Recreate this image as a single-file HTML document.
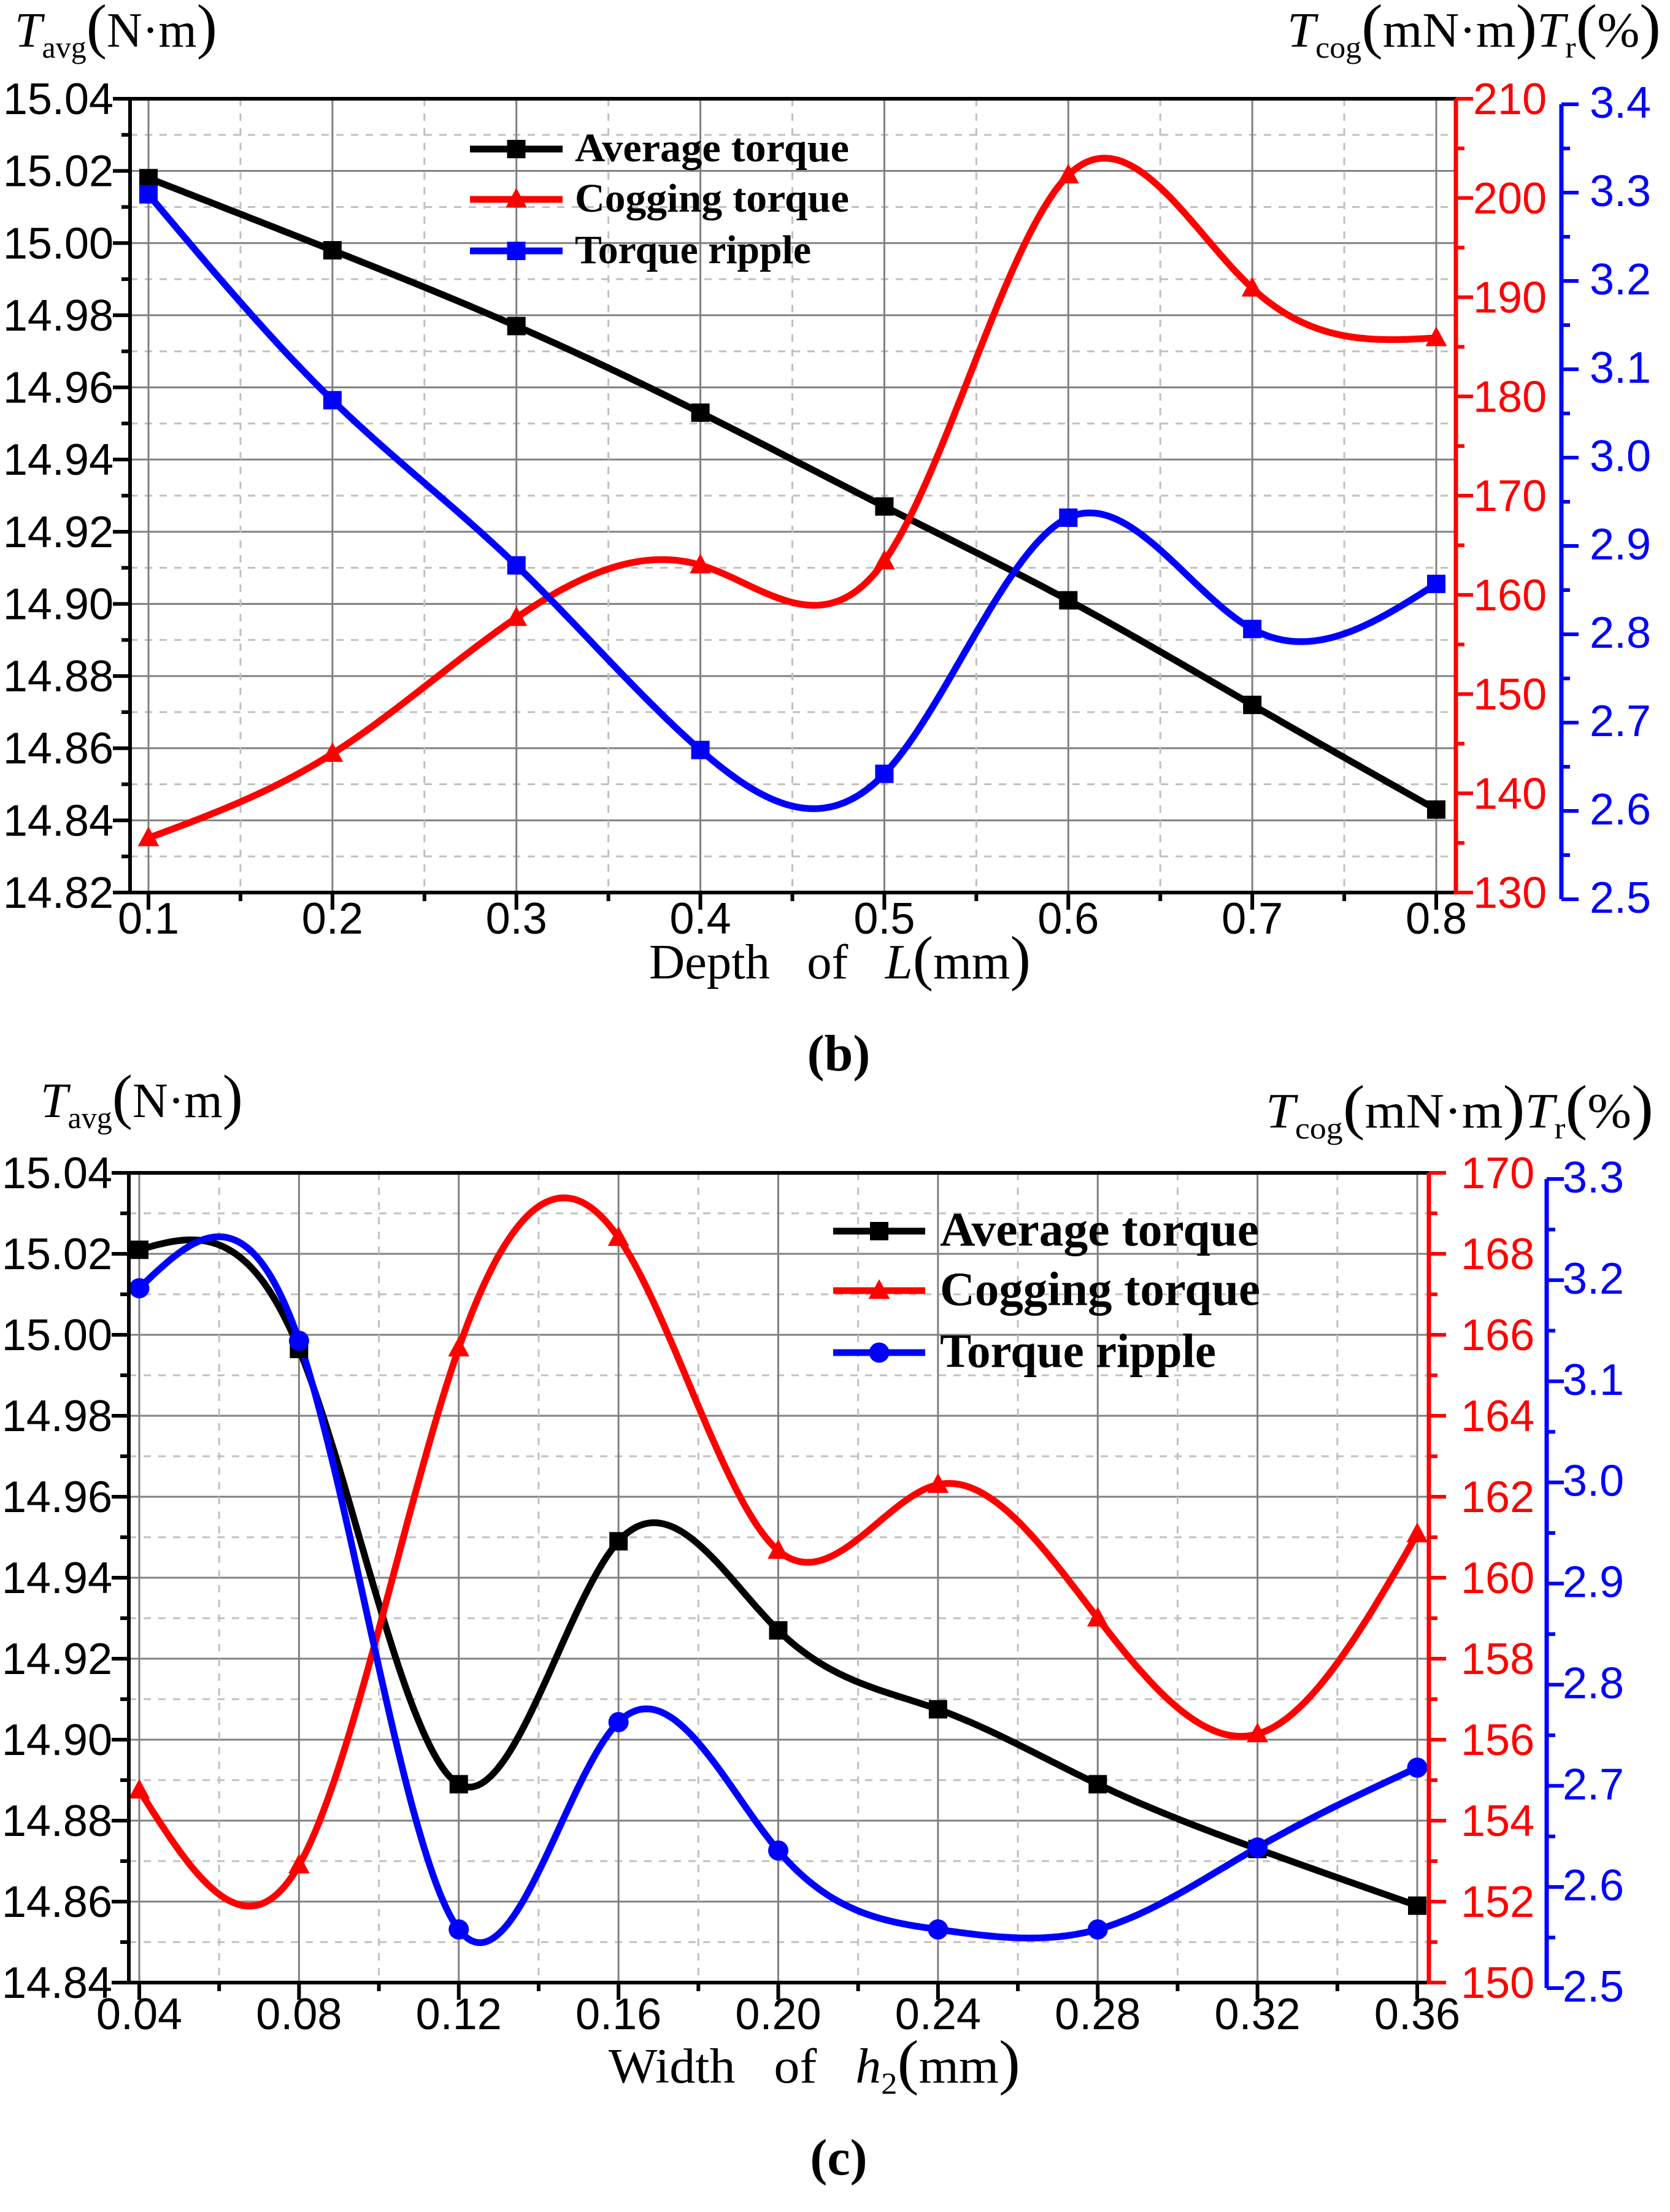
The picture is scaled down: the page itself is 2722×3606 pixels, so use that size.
<!DOCTYPE html>
<html><head><meta charset="utf-8"><style>
html,body{margin:0;padding:0;background:#fff;}
svg{display:block;}
text{white-space:pre;}
</style></head><body>
<svg id="fig" xmlns="http://www.w3.org/2000/svg" width="2722" height="3606" viewBox="0 0 2722 3606" font-family="'Liberation Sans', sans-serif">
<rect x="0" y="0" width="2722" height="3606" fill="#fff"/>
</svg>
<script>
// ---------- Chart (b) data ----------
const bX = [0.1,0.2,0.3,0.4,0.5,0.6,0.7,0.8];
const bAvg = [15.018,14.998,14.977,14.953,14.927,14.901,14.872,14.843];
const bCog = [135.5,144.0,157.7,163.0,163.4,202.3,190.9,185.9];
const bRip = [3.298,3.065,2.878,2.669,2.642,2.932,2.806,2.857];
const bXTicks = ["0.1","0.2","0.3","0.4","0.5","0.6","0.7","0.8"];
const bLeftTicks = ["15.04","15.02","15.00","14.98","14.96","14.94","14.92","14.90","14.88","14.86","14.84","14.82"];
const bRedTicks = ["210","200","190","180","170","160","150","140","130"];
const bBlueTicks = ["3.4","3.3","3.2","3.1","3.0","2.9","2.8","2.7","2.6","2.5"];
// ---------- Chart (c) data ----------
const cX = [0.04,0.08,0.12,0.16,0.20,0.24,0.28,0.32,0.36];
const cAvg = [15.021,14.9965,14.889,14.949,14.927,14.9075,14.889,14.873,14.859];
const cCog = [154.75,152.9,165.67,168.4,160.67,162.3,159.0,156.14,161.08];
const cRip = [3.192,3.140,2.558,2.763,2.636,2.558,2.558,2.639,2.718];
const cXTicks = ["0.04","0.08","0.12","0.16","0.20","0.24","0.28","0.32","0.36"];
const cLeftTicks = ["15.04","15.02","15.00","14.98","14.96","14.94","14.92","14.90","14.88","14.86","14.84"];
const cRedTicks = ["170","168","166","164","162","160","158","156","154","152","150"];
const cBlueTicks = ["3.3","3.2","3.1","3.0","2.9","2.8","2.7","2.6","2.5"];

const NS = "http://www.w3.org/2000/svg";
const svg = document.getElementById("fig");
function el(tag, attrs, parent){
  const e = document.createElementNS(NS, tag);
  for (const k in attrs) e.setAttribute(k, attrs[k]);
  (parent||svg).appendChild(e);
  return e;
}
function lin(d0,d1,p0,p1){ return v => p0 + (v-d0)/(d1-d0)*(p1-p0); }

function naturalSpline(xs, ys){
  const n = xs.length, h=[], a=[], l=[1], mu=[0], z=[0], c=new Array(n).fill(0), b=[], d=[];
  for(let i=0;i<n-1;i++) h.push(xs[i+1]-xs[i]);
  for(let i=1;i<n-1;i++) a[i]=3/h[i]*(ys[i+1]-ys[i]) - 3/h[i-1]*(ys[i]-ys[i-1]);
  for(let i=1;i<n-1;i++){ l[i]=2*(xs[i+1]-xs[i-1])-h[i-1]*mu[i-1]; mu[i]=h[i]/l[i]; z[i]=(a[i]-h[i-1]*z[i-1])/l[i]; }
  l[n-1]=1; z[n-1]=0;
  for(let j=n-2;j>=0;j--){ c[j]=z[j]-mu[j]*c[j+1]; b[j]=(ys[j+1]-ys[j])/h[j]-h[j]*(c[j+1]+2*c[j])/3; d[j]=(c[j+1]-c[j])/(3*h[j]); }
  return t => { let i=0; while(i<n-2 && t>xs[i+1]) i++; const dx=t-xs[i]; return ys[i]+b[i]*dx+c[i]*dx*dx+d[i]*dx*dx*dx; };
}

function drawChart(cfg){
  const g = el("g", {});
  
  
  const {L,R,T,B,BT,BB} = cfg;
  const xs = lin(cfg.xs[0], cfg.xs[cfg.xs.length-1], cfg.x0px, cfg.x1px);
  const yl = lin(cfg.lMin, cfg.lMax, B, T);
  const yr = lin(cfg.rMin, cfg.rMax, B, T);
  const yb = lin(cfg.bMin, cfg.bMax, BB, BT);
  const grid = el("g", {}, g);
  
  
  const nL = cfg.leftTicks.length;
  for(let i=0;i<nL;i++){
    const v = parseFloat(cfg.leftTicks[i]); const y = yl(v);
    if(i>0 && i<nL-1) el("line",{x1:L,x2:R,y1:y,y2:y,stroke:"#808080","stroke-width":3},grid);
    if(i<nL-1){ const ym = yl(v - cfg.lStep/2); el("line",{x1:L,x2:R,y1:ym,y2:ym,stroke:"#c0c0c0","stroke-width":3,"stroke-dasharray":"12 12"},grid); }
  }
  const nX = cfg.xs.length;
  for(let i=0;i<nX;i++){
    const x = xs(cfg.xs[i]);
    el("line",{x1:x,x2:x,y1:T,y2:B,stroke:"#808080","stroke-width":3},grid);
    if(i<nX-1){ const xm = xs((cfg.xs[i]+cfg.xs[i+1])/2); el("line",{x1:xm,x2:xm,y1:T,y2:B,stroke:"#c0c0c0","stroke-width":3,"stroke-dasharray":"12 12"},grid); }
  }
  const series = [
    {vals:cfg.avg, y:yl, color:"#000", marker:"square", n:"average-torque"},
    {vals:cfg.cog, y:yr, color:"#ff0000", marker:"triangle", n:"cogging-torque"},
    {vals:cfg.rip, y:yb, color:"#0000ff", marker:cfg.ripMarker, n:"torque-ripple"}
  ];
  series.forEach(s=>{
    const f = naturalSpline(cfg.xs, s.vals);
    let d="";
    const a=cfg.xs[0], bnd=cfg.xs[nX-1];
    for(let k=0;k<=400;k++){ const t=a+(bnd-a)*k/400; d+=(k?"L":"M")+xs(t).toFixed(1)+","+s.y(f(t)).toFixed(1); }
    const p = el("path",{d:d,fill:"none",stroke:s.color,"stroke-width":cfg.lw,"stroke-linejoin":"round"},g);
    
    
  });
  series.forEach(s=>{
    for(let i=0;i<nX;i++){
      const m = marker(g, s.marker, xs(cfg.xs[i]), s.y(s.vals[i]), s.color, cfg.ms);
      
      
    }
  });
  const ax = el("g",{},g);
  
  
  el("line",{x1:L-2,x2:R,y1:T,y2:T,stroke:"#000","stroke-width":6},ax);
  el("line",{x1:L-2,x2:R,y1:B,y2:B,stroke:"#000","stroke-width":6},ax);
  el("line",{x1:L,x2:L,y1:T,y2:B,stroke:"#000","stroke-width":6},ax);
  el("line",{x1:R,x2:R,y1:T,y2:B+3,stroke:"#ff0000","stroke-width":7},ax);
  el("line",{x1:cfg.BA,x2:cfg.BA,y1:BT,y2:BB,stroke:"#0000ff","stroke-width":7},ax);
  for(let i=0;i<nL;i++){
    const v=parseFloat(cfg.leftTicks[i]), y=yl(v);
    el("line",{x1:L-28,x2:L,y1:y,y2:y,stroke:"#000","stroke-width":6},ax);
    if(i<nL-1){ const ym=yl(v-cfg.lStep/2); el("line",{x1:L-14,x2:L,y1:ym,y2:ym,stroke:"#000","stroke-width":6},ax); }
    const t=el("text",{x:L-27,y:y+25,"text-anchor":"end","font-size":72,fill:"#000"},ax);
    t.textContent=cfg.leftTicks[i];
    
    
  }
  for(let i=0;i<nX;i++){
    const x=xs(cfg.xs[i]);
    el("line",{x1:x,x2:x,y1:B,y2:B+28,stroke:"#000","stroke-width":6},ax);
    if(i<nX-1){ const xm=xs((cfg.xs[i]+cfg.xs[i+1])/2); el("line",{x1:xm,x2:xm,y1:B,y2:B+14,stroke:"#000","stroke-width":6},ax); }
    const t=el("text",{x:x,y:cfg.xLabelY,"text-anchor":"middle","font-size":72,fill:"#000"},ax);
    t.textContent=cfg.xTicks[i];
    
    
  }
  const nR=cfg.redTicks.length;
  for(let i=0;i<nR;i++){
    const v=parseFloat(cfg.redTicks[i]), y=yr(v);
    el("line",{x1:R,x2:R+28,y1:y,y2:y,stroke:"#ff0000","stroke-width":6},ax);
    if(i<nR-1){ const ym=yr(v-cfg.rStep/2); el("line",{x1:R,x2:R+14,y1:ym,y2:ym,stroke:"#ff0000","stroke-width":6},ax); }
    const t=el("text",{x:R+cfg.redLabDx,y:y+25,"font-size":72,fill:"#ff0000"},ax);
    t.textContent=cfg.redTicks[i];
    
    
  }
  const nB=cfg.blueTicks.length;
  for(let i=0;i<nB;i++){
    const v=parseFloat(cfg.blueTicks[i]), y=yb(v);
    el("line",{x1:cfg.BA,x2:cfg.BA+28,y1:y,y2:y,stroke:"#0000ff","stroke-width":6},ax);
    if(i<nB-1){ const ym=yb(v-0.05); el("line",{x1:cfg.BA,x2:cfg.BA+14,y1:ym,y2:ym,stroke:"#0000ff","stroke-width":6},ax); }
    const t=el("text",{x:cfg.BA+cfg.blueLabDx,y:y+22,"font-size":72,fill:"#0000ff"},ax);
    t.textContent=cfg.blueTicks[i];
    
    
  }
  const lg=el("g",{},g);
  
  
  const names=["Average torque","Cogging torque","Torque ripple"];
  const lens=cfg.legLens;
  series.forEach((s,i)=>{
    const y=cfg.legY[i];
    const e=el("g",{},lg);
    
    
    el("line",{x1:cfg.legX0,x2:cfg.legX1,y1:y,y2:y,stroke:s.color,"stroke-width":cfg.lw},e);
    marker(e, s.marker, (cfg.legX0+cfg.legX1)/2, y, s.color, cfg.ms);
    const t=el("text",{x:cfg.legTx,y:y+cfg.legFs*0.3,"font-size":cfg.legFs,"font-weight":"bold","font-family":"'Liberation Serif', serif",textLength:lens[i],lengthAdjust:"spacingAndGlyphs",fill:"#000"},e);
    t.textContent=names[i];
  });
}

function marker(parent, type, x, y, color, s){
  if(type==="square") return el("rect",{x:x-s/2,y:y-s/2,width:s,height:s,fill:color},parent);
  if(type==="triangle") return el("polygon",{points:`${x},${y-s*0.62} ${x-s*0.58},${y+s*0.45} ${x+s*0.58},${y+s*0.45}`,fill:color},parent);
  return el("circle",{cx:x,cy:y,r:s*0.55,fill:color},parent);
}

drawChart({name:"chart-b", xs:bX, avg:bAvg, cog:bCog, rip:bRip, ripMarker:"square",
  L:212,R:2373,T:161,B:1455, x0px:242,x1px:2341,
  lMin:14.82,lMax:15.04,lStep:0.02, rMin:130,rMax:210,rStep:10,
  BA:2545,BT:170,BB:1466,bMin:2.5,bMax:3.4,
  leftTicks:bLeftTicks, xTicks:bXTicks, redTicks:bRedTicks, blueTicks:bBlueTicks,
  xLabelY:1522, redLabDx:28, blueLabDx:46, lw:11, ms:30,
  legX0:766,legX1:917,legTx:937,legY:[243,325,409],legFs:66,legLens:[447,447,385]});

drawChart({name:"chart-c", xs:cX, avg:cAvg, cog:cCog, rip:cRip, ripMarker:"circle",
  L:210,R:2329,T:1912,B:3232, x0px:227,x1px:2310,
  lMin:14.84,lMax:15.04,lStep:0.02, rMin:150,rMax:170,rStep:2,
  BA:2521,BT:1922,BB:3241,bMin:2.5,bMax:3.3,
  leftTicks:cLeftTicks, xTicks:cXTicks, redTicks:cRedTicks, blueTicks:cBlueTicks,
  xLabelY:3308, redLabDx:52, blueLabDx:26, lw:11, ms:30,
  legX0:1358,legX1:1508,legTx:1532,legY:[2007,2104,2205],legFs:78,legLens:[520,522,450]});
</script>
<svg style="position:absolute;left:0;top:0" width="2722" height="3606" viewBox="0 0 2722 3606" font-family="'Liberation Serif', serif">
  <text x="24" y="76" font-size="80"><tspan font-style="italic">T</tspan><tspan font-size="50" dy="18">avg</tspan><tspan dy="-18" font-size="100">(</tspan>N·m<tspan font-size="100">)</tspan></text>
  <text x="2098" y="76" font-size="80" textLength="609" lengthAdjust="spacingAndGlyphs"><tspan font-style="italic">T</tspan><tspan font-size="50" dy="18">cog</tspan><tspan dy="-18" font-size="100">(</tspan>mN·m<tspan font-size="100">)</tspan><tspan font-style="italic">T</tspan><tspan font-size="50" dy="18">r</tspan><tspan dy="-18" font-size="100">(</tspan>%<tspan font-size="100">)</tspan></text>
  <text x="1058" y="1595" font-size="80" textLength="622" lengthAdjust="spacingAndGlyphs">Depth   of   <tspan font-style="italic">L</tspan><tspan font-size="100">(</tspan>mm<tspan font-size="100">)</tspan></text>
  <text x="1367" y="1745" font-size="84" font-weight="bold" text-anchor="middle">(b)</text>
  <text x="66" y="1821" font-size="80"><tspan font-style="italic">T</tspan><tspan font-size="50" dy="18">avg</tspan><tspan dy="-18" font-size="100">(</tspan>N·m<tspan font-size="100">)</tspan></text>
  <text x="2063" y="1838" font-size="80" textLength="632" lengthAdjust="spacingAndGlyphs"><tspan font-style="italic">T</tspan><tspan font-size="50" dy="18">cog</tspan><tspan dy="-18" font-size="100">(</tspan>mN·m<tspan font-size="100">)</tspan><tspan font-style="italic">T</tspan><tspan font-size="50" dy="18">r</tspan><tspan dy="-18" font-size="100">(</tspan>%<tspan font-size="100">)</tspan></text>
  <text x="992" y="3395" font-size="80" textLength="671" lengthAdjust="spacingAndGlyphs">Width   of   <tspan font-style="italic">h</tspan><tspan font-size="50" dy="18">2</tspan><tspan dy="-18" font-size="100">(</tspan>mm<tspan font-size="100">)</tspan></text>
  <text x="1367" y="3545" font-size="84" font-weight="bold" text-anchor="middle">(c)</text>
</svg>
</body></html>
